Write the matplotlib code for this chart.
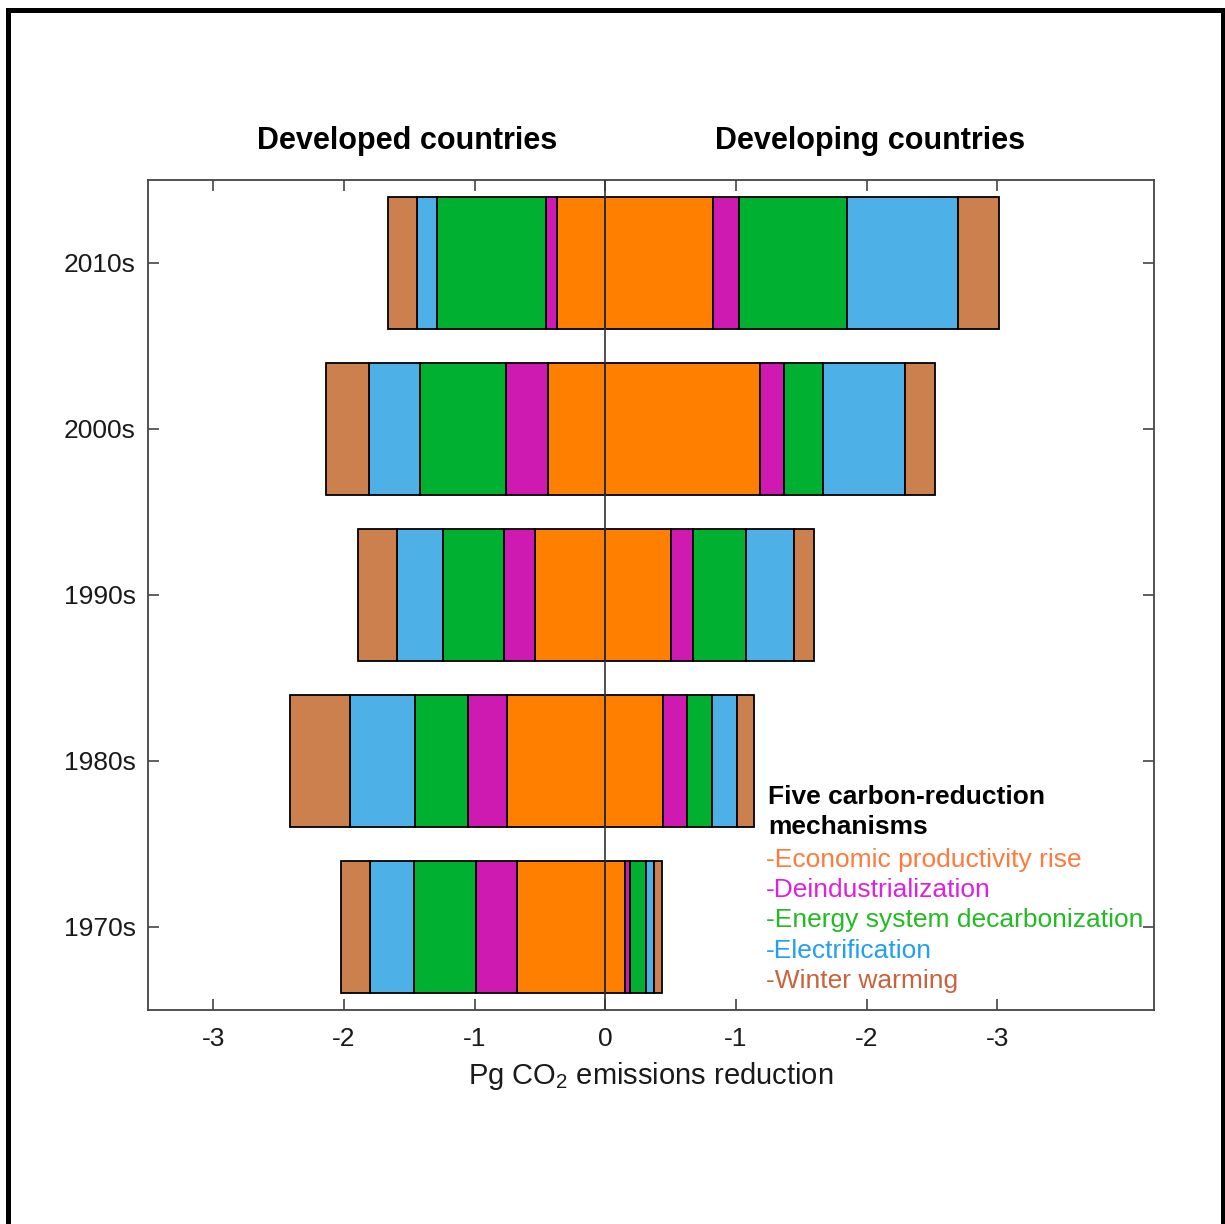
import matplotlib
matplotlib.use("Agg")
import matplotlib.pyplot as plt
import numpy as np
from matplotlib.patches import Rectangle

plt.rcParams['font.family'] = ['Liberation Sans', 'DejaVu Sans']
plt.rcParams['mathtext.fontset'] = 'custom'
plt.rcParams['mathtext.rm'] = 'Liberation Sans'

W, H = 1225, 1224

decades = ["1970s", "1980s", "1990s", "2000s", "2010s"]
mechanisms = ["Economic productivity rise", "Deindustrialization",
              "Energy system decarbonization", "Electrification", "Winter warming"]
bar_colors = ["#FF8000", "#CF1AB2", "#00B030", "#4DB0E6", "#CC804D"]
text_colors = ["#FF7A3C", "#DD22DD", "#22BB22", "#22A0F0", "#C8643C"]

# developed countries (drawn to the left), Pg CO2
dev_economic = [0.675, 0.756, 0.535, 0.435, 0.367]
dev_deind = [0.311, 0.298, 0.242, 0.323, 0.089]
dev_energy = [0.479, 0.400, 0.468, 0.660, 0.833]
dev_electr = [0.338, 0.500, 0.349, 0.387, 0.155]
dev_winter = [0.222, 0.458, 0.300, 0.336, 0.221]

# developing countries (drawn to the right)
dvg_economic = [0.153, 0.445, 0.502, 1.184, 0.827]
dvg_deind = [0.033, 0.184, 0.167, 0.181, 0.199]
dvg_energy = [0.122, 0.189, 0.410, 0.300, 0.828]
dvg_electr = [0.066, 0.192, 0.362, 0.626, 0.848]
dvg_winter = [0.063, 0.125, 0.155, 0.229, 0.310]

xtick_vals = [-3, -2, -1, 0, 1, 2, 3]
xtick_labels = ["-3", "-2", "-1", "0", "-1", "-2", "-3"]

fig = plt.figure(figsize=(W / 100, H / 100), dpi=100)
ax = fig.add_axes([148 / W, 1 - 1010 / H, (1154 - 148) / W, (1010 - 180) / H])

y = np.arange(1, len(decades) + 1)
dev = [dev_economic, dev_deind, dev_energy, dev_electr, dev_winter]
dvg = [dvg_economic, dvg_deind, dvg_energy, dvg_electr, dvg_winter]

left_cum = np.zeros(len(decades))
right_cum = np.zeros(len(decades))
for vals_l, vals_r, c in zip(dev, dvg, bar_colors):
    vals_l = np.array(vals_l)
    vals_r = np.array(vals_r)
    ax.barh(y, -vals_l, left=-left_cum, height=0.8, color=c, edgecolor="black", linewidth=1.3, zorder=2)
    ax.barh(y, vals_r, left=right_cum, height=0.8, color=c, edgecolor="black", linewidth=1.3, zorder=2)
    left_cum += vals_l
    right_cum += vals_r

ax.axvline(0, color="#333333", linewidth=1.2, zorder=3)

ax.set_xlim(-3.5, 4.2)
ax.set_ylim(0.5, 5.5)
ax.set_xticks(xtick_vals)
ax.set_xticklabels(xtick_labels)
ax.set_yticks(y)
ax.set_yticklabels(decades)
ax.tick_params(axis="both", direction="in", top=True, right=True, length=8, width=1.2,
               color="#444444", labelsize=19, labelcolor="#1a1a1a")
ax.tick_params(axis="x", pad=12)
ax.tick_params(axis="y", pad=9)
for sp in ax.spines.values():
    sp.set_color("#444444")
    sp.set_linewidth(1.3)

ax.set_xlabel("Pg CO$_2$ emissions reduction", fontsize=21, color="#1a1a1a", labelpad=7)

fig.text(407 / W, 1 - 141 / H, "Developed countries", fontsize=22, fontweight="bold",
         ha="center", va="center")
fig.text(870 / W, 1 - 141 / H, "Developing countries", fontsize=22, fontweight="bold",
         ha="center", va="center")

# legend written as coloured text lines
fig.text(768 / W, 1 - 797 / H, "Five carbon-reduction", fontsize=19, fontweight="bold",
         ha="left", va="center")
fig.text(768 / W, 1 - 827 / H, "mechanisms", fontsize=19, fontweight="bold",
         ha="left", va="center")
legend_y = [860, 890, 920, 951, 981]
for name, c, yy in zip(mechanisms, text_colors, legend_y):
    fig.text(766 / W, 1 - yy / H, "-" + name, fontsize=19, color=c, ha="left", va="center")

# black frame around the figure
fig.patches.append(Rectangle((7.5 / W, -0.05), (1222.5 - 7.5) / W, 1 - 9.5 / H + 0.05,
                             transform=fig.transFigure, fill=False, edgecolor="black",
                             linewidth=3.6, zorder=10))

fig.savefig("out.png", dpi=100)
